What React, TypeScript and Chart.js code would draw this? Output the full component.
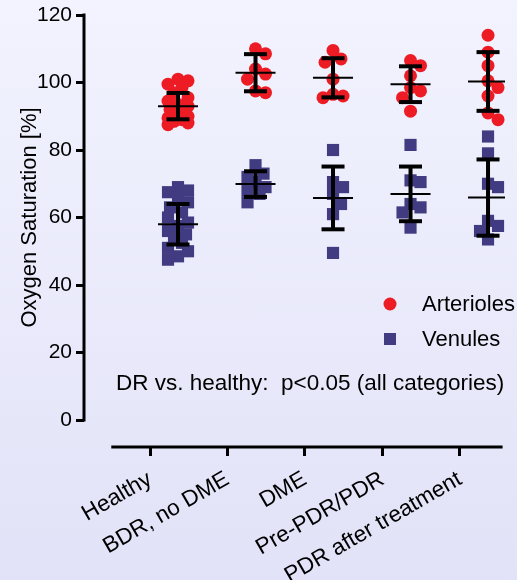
import React, { useEffect, useRef } from 'react';
import { Chart, registerables } from 'chart.js';

Chart.register(...registerables);

// ---------- data ----------
const categories = ['Healthy', 'BDR, no DME', 'DME', 'Pre-PDR/PDR', 'PDR after treatment'];

const arterioles: number[][] = [
  [101, 100.5, 99.5, 98.5, 97, 95.5, 94.5, 93.5, 93, 92, 91, 90.5, 90, 89.5, 89, 88.5, 88, 87.5],
  [110, 108.5, 104, 102.5, 101, 97.5, 97],
  [109.5, 107, 106, 101, 96.5, 96, 95.5],
  [106.5, 105, 102, 98.5, 97.5, 95.5, 91.5],
  [114, 109, 105, 100.5, 98.5, 96, 91, 89],
];
const venules: number[][] = [
  [69, 68, 67.5, 66, 64.5, 63, 61.5, 60, 58.5, 57.5, 56, 55, 54, 52.5, 51, 50, 48.5, 47.5],
  [75.5, 73, 72, 70.5, 69, 68, 67, 64.5],
  [80, 70.5, 69, 67, 64, 61, 49.5],
  [81.5, 71, 70.5, 64, 63, 61.5, 57],
  [84, 79, 70, 69, 59, 57.5, 56, 53.5],
];
const arteriolesMean = [93.0, 102.9, 101.4, 99.5, 100.3];
const arteriolesSD = [3.9, 5.5, 5.8, 5.3, 8.7];
const venulesMean = [58.0, 69.9, 65.8, 67.0, 65.9];
const venulesSD = [6.0, 3.8, 9.3, 8.1, 11.3];

const yTicks = [0, 20, 40, 60, 80, 100, 120];
const legendLabels = ['Arterioles', 'Venules'];
const yTitle = 'Oxygen Saturation [%]';
const note = 'DR vs. healthy:  p<0.05 (all categories)';

// ---------- styling / layout ----------
const RED = '#ed1c24';
const BLUE = '#413b82';
const FONT = "'Liberation Sans', Arial, Helvetica, sans-serif";
const W = 517;
const H = 580;

// approximate pixel scale used only to spread overlapping markers sideways (compact swarm)
const PX_PER_Y = 3.375;
const PX_PER_CAT = 77.5;
const PREFERRED = [0, 8, -8];
const FALLBACK = [0, 4, -4, 8, -8, 10, -10];
const MIN_GAP = 11;

function swarm(vals: number[], cat: number) {
  const placed: { x: number; y: number }[] = [];
  const out: { x: number; y: number }[] = [];
  const sorted = [...vals].sort((a, b) => b - a);
  const minDist = (cx: number, py: number) =>
    placed.reduce((m, p) => Math.min(m, Math.hypot(p.x - cx, p.y - py)), Infinity);
  for (const v of sorted) {
    const py = v * PX_PER_Y;
    let off: number | null = null;
    for (const c of PREFERRED) {
      if (minDist(c, py) >= MIN_GAP) {
        off = c;
        break;
      }
    }
    if (off === null) {
      let best = 0;
      let bestD = -1;
      for (const c of FALLBACK) {
        const d = minDist(c, py);
        if (d > bestD + 0.01) {
          bestD = d;
          best = c;
        }
      }
      off = best;
    }
    placed.push({ x: off, y: py });
    out.push({ x: cat + off / PX_PER_CAT, y: v });
  }
  return out;
}

function errorData(means: number[], sds: number[]) {
  const meanPts = means.map((m, i) => ({ x: i, y: m }));
  const capPts: { x: number; y: number }[] = [];
  const whisk: { x: number; y: number | null }[] = [];
  means.forEach((m, i) => {
    capPts.push({ x: i, y: m + sds[i] }, { x: i, y: m - sds[i] });
    whisk.push({ x: i, y: m - sds[i] }, { x: i, y: m + sds[i] }, { x: i, y: null });
  });
  return { meanPts, capPts, whisk };
}

const overlayPlugin = {
  id: 'overlay',
  afterDraw(chart: any) {
    const { ctx, chartArea, scales } = chart;
    const y = scales.y;
    const xl = scales.xl;
    ctx.save();
    ctx.strokeStyle = '#000';
    ctx.lineWidth = 3;
    ctx.lineCap = 'butt';
    // y axis line
    ctx.beginPath();
    ctx.moveTo(chartArea.left, y.getPixelForValue(yTicks[yTicks.length - 1]) - 1.5);
    ctx.lineTo(chartArea.left, y.getPixelForValue(yTicks[0]) + 1.5);
    ctx.stroke();
    // x axis line
    ctx.beginPath();
    ctx.moveTo(xl.getPixelForValue(-0.5), chartArea.bottom);
    ctx.lineTo(xl.getPixelForValue(categories.length - 1 + 0.55), chartArea.bottom);
    ctx.stroke();

    // y title
    ctx.fillStyle = '#000';
    ctx.font = `22px ${FONT}`;
    ctx.textAlign = 'center';
    ctx.textBaseline = 'middle';
    const cy = (y.getPixelForValue(yTicks[0]) + y.getPixelForValue(yTicks[yTicks.length - 1])) / 2;
    ctx.save();
    ctx.translate(30, cy);
    ctx.rotate(-Math.PI / 2);
    ctx.fillText(yTitle, 0, 0);
    ctx.restore();

    // legend
    ctx.textAlign = 'left';
    ctx.fillStyle = RED;
    ctx.beginPath();
    ctx.arc(390, 304, 6.5, 0, Math.PI * 2);
    ctx.fill();
    ctx.fillStyle = BLUE;
    ctx.fillRect(384, 333, 12, 12);
    ctx.fillStyle = '#000';
    ctx.font = `22px ${FONT}`;
    ctx.fillText(legendLabels[0], 422, 305);
    ctx.fillText(legendLabels[1], 422, 340);

    // note
    ctx.font = `22.5px ${FONT}`;
    ctx.fillText(note, 116, 384);
    ctx.restore();
  },
};

export default function App() {
  const ref = useRef<HTMLCanvasElement | null>(null);

  useEffect(() => {
    document.body.style.margin = '0';
    document.body.style.overflow = 'hidden';
    if (!ref.current) return;

    const aPts = arterioles.flatMap((vals, i) => swarm(vals, i));
    const vPts = venules.flatMap((vals, i) => swarm(vals, i));
    const aErr = errorData(arteriolesMean, arteriolesSD);
    const vErr = errorData(venulesMean, venulesSD);

    Chart.defaults.font.family = FONT;

    const chart = new Chart(ref.current, {
      type: 'scatter',
      data: {
        datasets: [
          {
            label: legendLabels[0],
            data: aPts,
            pointStyle: 'circle',
            pointRadius: 6.5,
            pointBackgroundColor: RED,
            pointBorderWidth: 0,
            order: 3,
          },
          {
            label: legendLabels[1],
            data: vPts,
            pointStyle: 'rect',
            pointRadius: 8.6,
            pointBackgroundColor: BLUE,
            pointBorderWidth: 0,
            order: 2,
          },
          {
            label: 'whiskers',
            data: [...aErr.whisk, ...vErr.whisk] as any,
            showLine: true,
            spanGaps: false,
            borderColor: '#000',
            borderWidth: 4,
            pointRadius: 0,
            order: 1,
          },
          {
            label: 'caps',
            data: [...aErr.capPts, ...vErr.capPts],
            pointStyle: 'line',
            pointRadius: 11.5,
            pointBorderColor: '#000',
            pointBorderWidth: 4,
            order: 0,
          },
          {
            label: 'means',
            data: [...aErr.meanPts, ...vErr.meanPts],
            pointStyle: 'line',
            pointRadius: 20,
            pointBorderColor: '#000',
            pointBorderWidth: 2,
            order: 0,
          },
        ],
      },
      options: {
        animation: false,
        responsive: false,
        events: [],
        layout: { autoPadding: false, padding: { top: 15, right: 12, left: 0, bottom: 0 } },
        plugins: { legend: { display: false }, tooltip: { enabled: false } },
        scales: {
          x: {
            type: 'linear',
            display: false,
            offset: false,
            min: -1.213,
            max: 4.219,
          },
          xl: {
            type: 'linear',
            position: 'bottom',
            offset: false,
            min: -0.852,
            max: 4.581,
            afterBuildTicks: (s: any) => {
              s.ticks = categories.map((_, i) => ({ value: i }));
            },
            afterFit: (s: any) => {
              s.height = 133;
              s.paddingLeft = 0;
              s.paddingRight = 0;
              s.paddingTop = 0;
              s.paddingBottom = 0;
            },
            border: { display: false },
            grid: {
              drawOnChartArea: false,
              drawTicks: true,
              tickLength: 9,
              color: '#000',
              lineWidth: 3,
            },
            ticks: {
              autoSkip: false,
              minRotation: 30,
              maxRotation: 30,
              padding: 10,
              color: '#000',
              font: { size: 22.5, family: FONT },
              callback: (v: any) => categories[v as number] ?? '',
            },
          },
          y: {
            type: 'linear',
            position: 'left',
            min: -8,
            max: 120,
            afterBuildTicks: (s: any) => {
              s.ticks = yTicks.map((v) => ({ value: v }));
            },
            afterFit: (s: any) => {
              s.width = 84;
              s.paddingTop = 0;
              s.paddingBottom = 0;
              s.paddingLeft = 0;
              s.paddingRight = 0;
            },
            border: { display: false },
            grid: {
              drawOnChartArea: false,
              drawTicks: true,
              tickLength: 8,
              color: '#000',
              lineWidth: 3,
            },
            ticks: {
              padding: 4,
              color: '#000',
              font: { size: 21, family: FONT },
            },
          },
        },
      },
      plugins: [overlayPlugin],
    } as any);

    return () => chart.destroy();
  }, []);

  return (
    <div
      style={{
        width: W,
        height: H,
        background: 'linear-gradient(to bottom, #f2f3fe 0%, #e2e2f8 100%)',
      }}
    >
      <canvas ref={ref} width={W} height={H} style={{ display: 'block' }} />
    </div>
  );
}
